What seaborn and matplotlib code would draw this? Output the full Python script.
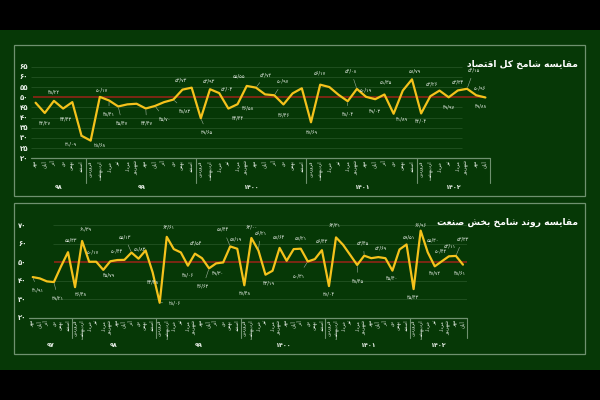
import numpy as np
import pandas as pd
import matplotlib
matplotlib.use('Agg')
import matplotlib.pyplot as plt
import matplotlib.transforms as mtransforms
from matplotlib.patches import Rectangle
import seaborn as sns

# ---------------- data ----------------
month_names = ['فروردین', 'اردیبهشت', 'خرداد', 'تیر', 'مرداد', 'شهریور',
               'مهر', 'آبان', 'آذر', 'دی', 'بهمن', 'اسفند']

top_title = 'مقایسه شامخ کل اقتصاد'
top_years = ['۹۸', '۹۹', '۱۴۰۰', '۱۴۰۱', '۱۴۰۲']
top_first_month = [6, 0, 0, 0, 0]
top_98 = [47.3, 42.27, 48.22, 44.43, 47.6, 31.09]
top_99 = [28.68, 50.17, 48.41, 45.47, 46.5, 46.8, 44.47, 45.70, 47.6, 48.83, 53.73, 54.7]
top_1400 = [39.65, 53.93, 52.04, 44.44, 46.58, 55.55, 54.72, 51.4, 50.97, 46.46, 51.9, 54.4]
top_1401 = [37.69, 56.17, 55.0, 51.2, 48.04, 54.08, 50.19, 49.03, 51.35, 41.89, 53.26, 58.79]
top_1402 = [42.04, 50.5, 53.26, 49.97, 53.34, 54.15, 50.96, 49.88]
top_ticks = [20, 25, 30, 35, 40, 45, 50, 55, 60, 65]

bot_title = 'مقایسه روند شامخ بخش صنعت'
bot_years = ['۹۷', '۹۸', '۹۹', '۱۴۰۰', '۱۴۰۱', '۱۴۰۲']
bot_first_month = [6, 0, 0, 0, 0, 0]
bot_97 = [41.91, 41.2, 39.6, 39.21, 47.6, 55.33]
bot_98 = [36.48, 61.39, 50.17, 50.2, 45.79, 50.44, 51.1, 51.2, 55.13, 51.83, 56.3, 44.48]
bot_99 = [28.06, 63.61, 57.0, 55.2, 48.06, 54.54, 52.1, 46.63, 49.30, 49.8, 58.44, 57.19]
bot_1400 = [37.48, 63.00, 56.21, 43.19, 45.3, 57.64, 50.7, 57.0, 57.21, 50.31, 51.6, 56.43]
bot_1401 = [37.04, 63.31, 59.3, 53.9, 48.45, 53.45, 52.1, 52.69, 52.1, 45.40, 56.8, 59.51]
bot_1402 = [35.43, 66.96, 55.30, 47.72, 50.42, 53.11, 53.33, 48.61]
bot_ticks = [20, 30, 40, 50, 60, 70]

ref_value = 50

# label placement (pixel offsets) -- styling only
top_lab = {1: (0, -10), 2: (0, 9), 3: (3, -10), 5: (-11, -8), 6: (9, -4), 7: (2, 7),
           8: (0, -14), 9: (4, -17), 12: (1, -15), 13: (10, -13), 15: (12, -11),
           16: (-2, 10), 18: (6, -14), 19: (-1, 8), 20: (8, 4), 21: (10, -9),
           22: (10, -4), 23: (-8, 10), 24: (10, 13), 26: (9, 14), 27: (0, -11),
           30: (1, -10), 31: (0, 12), 34: (0, -13), 35: (-6, 18), 36: (0, 7),
           37: (0, -12), 38: (2, 12), 39: (8, -5), 41: (3, 8), 42: (0, -8),
           44: (-8, 7), 45: (0, -10), 46: (0, 8), 47: (7, 19), 48: (4, 7), 49: (-5, -9)}
bot_lab = {0: (5, -13), 3: (4, -16), 5: (3, 12), 6: (6, -7), 7: (3, 12), 8: (4, 10),
           10: (6, -5), 11: (7, 10), 14: (-7, 16), 15: (1, 10), 17: (0, -10), 18: (15, 0),
           19: (2, 10), 22: (0, -9), 23: (1, 11), 25: (-6, -18), 26: (2, -10),
           28: (-7, 17), 29: (-1, 10), 30: (1, -8), 31: (0, 11), 32: (2, 18),
           33: (3, -8), 35: (-1, 11), 38: (0, 11), 39: (-9, -14), 41: (0, 9),
           42: (0, -8), 43: (-1, 12), 46: (1, -16), 47: (-1, 13), 49: (3, 9),
           51: (0, -7), 53: (2, 7), 54: (-1, -8), 55: (0, 6), 56: (5, 12),
           57: (0, -7), 58: (-1, 10), 59: (1, 10), 60: (7, 17), 61: (-3, -8)}

# ------------- Persian text helpers -------------
FORMS = {
    'ا': ('\uFE8D', '\uFE8E'), 'آ': ('\uFE81', '\uFE82'),
    'ب': ('\uFE8F', '\uFE90', '\uFE91', '\uFE92'),
    'ت': ('\uFE95', '\uFE96', '\uFE97', '\uFE98'),
    'خ': ('\uFEA5', '\uFEA6', '\uFEA7', '\uFEA8'),
    'د': ('\uFEA9', '\uFEAA'), 'ذ': ('\uFEAB', '\uFEAC'),
    'ر': ('\uFEAD', '\uFEAE'), 'ز': ('\uFEAF', '\uFEB0'),
    'س': ('\uFEB1', '\uFEB2', '\uFEB3', '\uFEB4'),
    'ش': ('\uFEB5', '\uFEB6', '\uFEB7', '\uFEB8'),
    'ص': ('\uFEB9', '\uFEBA', '\uFEBB', '\uFEBC'),
    'ع': ('\uFEC9', '\uFECA', '\uFECB', '\uFECC'),
    'ف': ('\uFED1', '\uFED2', '\uFED3', '\uFED4'),
    'ق': ('\uFED5', '\uFED6', '\uFED7', '\uFED8'),
    'ک': ('\uFB8E', '\uFB8F', '\uFB90', '\uFB91'),
    'ل': ('\uFEDD', '\uFEDE', '\uFEDF', '\uFEE0'),
    'م': ('\uFEE1', '\uFEE2', '\uFEE3', '\uFEE4'),
    'ن': ('\uFEE5', '\uFEE6', '\uFEE7', '\uFEE8'),
    'ه': ('\uFEE9', '\uFEEA', '\uFEEB', '\uFEEC'),
    'و': ('\uFEED', '\uFEEE'),
    'ی': ('\uFBFC', '\uFBFD', '\uFBFE', '\uFBFF'),
}


def shape(text):
    text = text.replace('\u064A', '\u06CC').replace('\u0643', '\u06A9')
    out = []
    for i, c in enumerate(text):
        f = FORMS.get(c)
        if f is None:
            out.append(c)
            continue
        prev = text[i - 1] if i > 0 else ''
        nxt = text[i + 1] if i + 1 < len(text) else ''
        jp = prev in FORMS and len(FORMS[prev]) == 4
        jn = len(f) == 4 and nxt in FORMS
        if jp and jn:
            out.append(f[3])
        elif jn:
            out.append(f[2])
        elif jp:
            out.append(f[1])
        else:
            out.append(f[0])
    return ''.join(reversed(out))


FA = str.maketrans('0123456789.', '۰۱۲۳۴۵۶۷۸۹/')


def fa(s):
    return str(s).translate(FA)


# ------------- styling -------------
sns.set_style('dark')
plt.rcParams['font.family'] = ['DejaVu Sans']
BG = '#063806'
GOLD = '#f4c21c'
TXT = '#e8efe8'
FRAME = '#6f916f'
GRID = '#1f4f1f'
RED = '#9c2418'

W, H = 600, 400
fig = plt.figure(figsize=(6, 4), dpi=100, facecolor='black')
fig.patches.append(Rectangle((0, 30 / H), 1, 340 / H, transform=fig.transFigure,
                             facecolor=BG, edgecolor='none', zorder=-20))
for (x0, y0, x1, y1) in [(14, 45, 585, 196), (14, 203, 585, 354)]:
    fig.patches.append(Rectangle((x0 / W, 1 - y1 / H), (x1 - x0) / W, (y1 - y0) / H,
                                 transform=fig.transFigure, facecolor='none',
                                 edgecolor=FRAME, lw=0.9, zorder=-10))


def panel(rect_px, years, first_month, values_by_year, ticks, labs,
          grid_x, ref_x, sep_depth, year_y):
    left, top, right, bottom = rect_px
    ax = fig.add_axes([left / W, 1 - bottom / H, (right - left) / W, (bottom - top) / H])
    ax.set_zorder(5)
    ax.patch.set_visible(False)
    vals, cats, sizes = [], [], []
    for fm, v in zip(first_month, values_by_year):
        vals += v
        cats += [month_names[fm + k] for k in range(len(v))]
        sizes.append(len(v))
    n = len(vals)
    df = pd.DataFrame({'i': np.arange(n), 'v': vals})
    ymin, ymax = ticks[0], ticks[-1]
    for t in ticks[1:]:
        if t != ref_value:
            ax.hlines(t, grid_x[0], grid_x[1], color=GRID, lw=0.7, zorder=1)
    ax.hlines(ref_value, ref_x[0], ref_x[1], color=RED, lw=1.1, zorder=2)
    sns.lineplot(data=df, x='i', y='v', ax=ax, color=GOLD, lw=1.6, zorder=3)
    ax.set_xlim(-0.5, n - 0.5)
    ax.set_ylim(ymin, ymax)
    for s in ax.spines.values():
        s.set_visible(False)
    ax.axhline(ymin, color=FRAME, lw=0.9, clip_on=False)
    ax.set_yticks(ticks)
    ax.set_yticklabels([fa(t) for t in ticks], color=TXT, fontsize=5, fontweight='bold')
    ax.set_xticks(np.arange(n))
    ax.set_xticklabels([shape(c) for c in cats], rotation=90, color=TXT, fontsize=3.4)
    ax.tick_params(length=0, pad=2)
    ax.tick_params(axis='x', pad=1.5)
    ax.set_xlabel('')
    ax.set_ylabel('')
    ax.grid(False)
    tr = mtransforms.blended_transform_factory(ax.transData, ax.transAxes)
    start = 0
    for k, sz in enumerate(sizes):
        a, b = start, start + sz
        start = b
        ax.plot([b - 0.5, b - 0.5], [0, -sep_depth], color=FRAME, lw=0.8,
                transform=tr, clip_on=False)
        ax.text((a + b - 1) / 2, -year_y, years[k], transform=tr, ha='center', va='center',
                color=TXT, fontsize=4.6, fontweight='bold')
    for i, (dx, dy) in labs.items():
        v = vals[i]
        far = abs(dy) > 12 or abs(dx) > 10
        ax.annotate(fa(f'{v:.2f}'), xy=(i, v), xytext=(dx, dy), textcoords='offset pixels',
                    ha='center', va='center', color=TXT, fontsize=3.6,
                    arrowprops=dict(arrowstyle='-', color='#9fb09f', lw=0.4,
                                    shrinkA=2, shrinkB=1) if far else None,
                    zorder=4)
    return ax


ax1 = panel((31, 66.7, 490, 158.3), top_years, top_first_month,
            [top_98, top_99, top_1400, top_1401, top_1402], top_ticks, top_lab,
            grid_x=(-0.5, 46.5), ref_x=(-0.3, 49), sep_depth=0.27, year_y=0.315)
ax2 = panel((29.2, 225, 466.5, 317.7), bot_years, bot_first_month,
            [bot_97, bot_98, bot_99, bot_1400, bot_1401, bot_1402], bot_ticks, bot_lab,
            grid_x=(2.9, 61.5), ref_x=(3.0, 61.6), sep_depth=0.22, year_y=0.30)

fig.text(578 / W, 1 - 64 / H, shape(top_title), ha='right', va='center', color='white',
         fontsize=6.6, fontweight='bold')
fig.text(578 / W, 1 - 222 / H, shape(bot_title), ha='right', va='center', color='white',
         fontsize=6.6, fontweight='bold')

fig.savefig('out.png', dpi=100, facecolor='black')
